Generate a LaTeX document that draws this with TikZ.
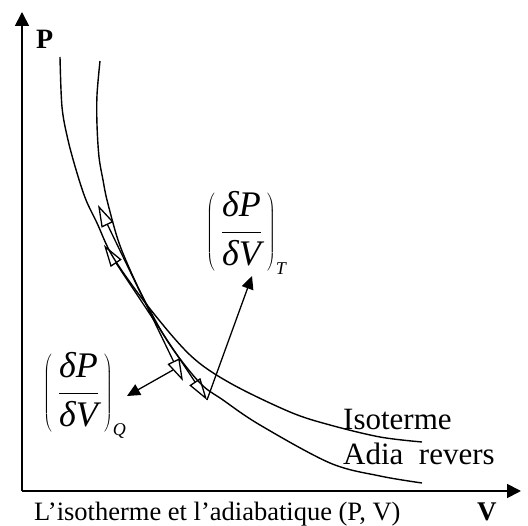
\RequirePackage{fix-cm}
\documentclass[tikz,border=0pt]{standalone}
\usepackage{fontspec}
\setmainfont{Liberation Serif}
\usetikzlibrary{arrows.meta}
\tikzset{
  axis/.style={line width=1.8pt, -{Triangle[length=14pt,width=14pt]}},
  curve/.style={line width=1.4pt},
  tangent/.style={line width=1.3pt, {Triangle[open,length=22pt,width=13pt]}-{Triangle[open,length=22pt,width=13pt]}},
  pointer/.style={line width=1.3pt, -{Triangle[length=13pt,width=12pt]}},
  lbl/.style={inner sep=0pt, anchor=base west},
  deriv/.style={inner sep=0pt, anchor=base west, font=\fontsize{36}{42}\selectfont},
}
\newcommand{\dpdvlabel}[1]{$\displaystyle\left(\vrule height 50pt depth 32pt width 0pt\hspace{6pt}\frac{\mbox{\itshape δP}}{\mbox{\itshape δV}}\hspace{5pt}\right)_{\mbox{\fontsize{18}{18}\selectfont\itshape #1}}$}
\begin{document}
\begin{tikzpicture}[x=1pt,y=-1pt]
\useasboundingbox (0,0) rectangle (528,526);
% axes
\coordinate (O) at (22,491);
\coordinate (ytop) at (22,12);
\coordinate (xend) at (521,491);
\draw[axis] (O) -- (ytop);
\draw[axis] (O) -- (xend);
\node[lbl, font=\fontsize{28}{32}\selectfont\bfseries] (Plbl) at (36,49) {P};
\node[lbl, font=\fontsize{27}{30}\selectfont\bfseries] (Vlbl) at (477,521) {V};
\node[lbl, font=\fontsize{26.5}{30}\selectfont] (cap) at (34,521) {L’isotherme et l’adiabatique (P, V)};
% curves
\draw[curve] plot[smooth, tension=0.55] coordinates {(60,57) (62,107) (68,140) (77,173) (86,200) (97,223) (113,257) (147,305) (190,355) (230,383) (290,412) (330,425) (380,437) (422,442)};
\draw[curve] plot[smooth, tension=0.55] coordinates {(100,61) (97,95) (97,125) (99,157) (103,180) (107,200) (118,240) (131,272) (147,305) (170,345) (200,383) (223,400) (260,425) (330,463) (380,476) (422,483)};
\node[lbl, font=\fontsize{31}{36}\selectfont] (iso) at (343,430) {Isoterme};
\node[lbl, font=\fontsize{31}{36}\selectfont] (adia) at (343,465) {Adia\ \ revers};
% tangents
\coordinate (a1) at (98,205);
\coordinate (a2) at (183,381);
\coordinate (i1) at (104,245);
\coordinate (i2) at (207,400);
\draw[tangent] (a1) -- (a2);
\draw[tangent] (i1) -- (i2);
% derivative labels
\node[deriv] (dT) at (206,241) {\dpdvlabel{T}};
\node[deriv] (dQ) at (43,402) {\dpdvlabel{Q}};
\coordinate (qs) at (173,370);
\coordinate (qt) at (127,396);
\coordinate (tt) at (252,276);
\draw[pointer] (qs) -- (qt);
\draw[pointer] (i2) -- (tt);
\end{tikzpicture}
\end{document}
